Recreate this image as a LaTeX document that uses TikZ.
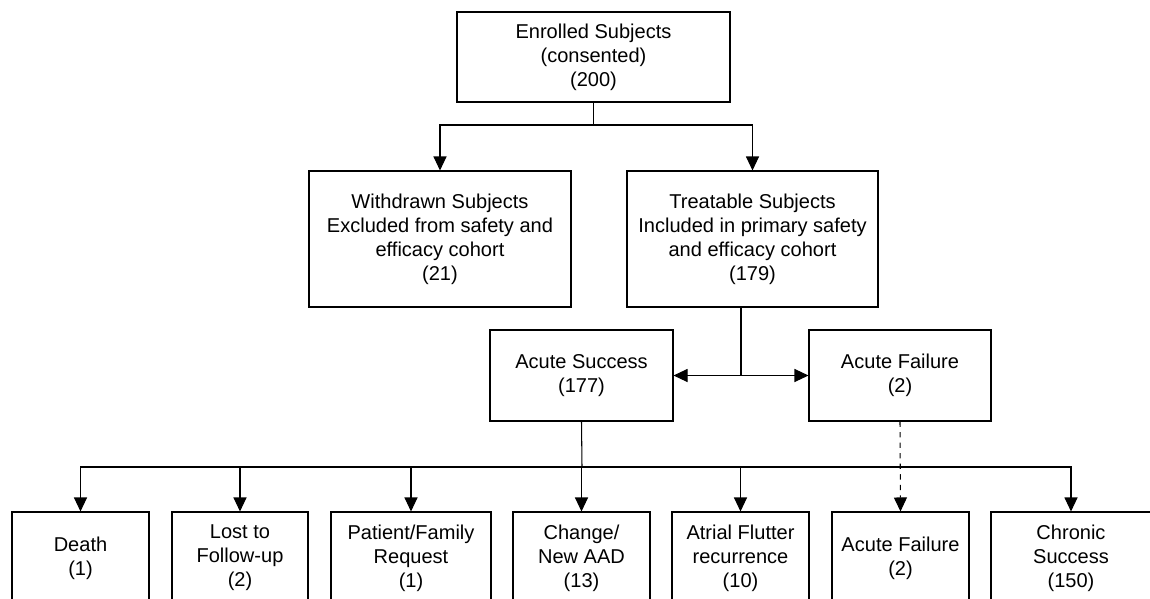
\documentclass[tikz,border=0pt]{standalone}
\usepackage{fontspec}
\setmainfont{Liberation Sans}
\usepackage{tikz}
\usetikzlibrary{arrows.meta}

\begin{document}
\begin{tikzpicture}[>={Triangle[length=0.28cm,width=0.26cm]},line width=0.6pt,
  box/.style={draw,inner sep=2pt,align=center,font=\fontsize{11.4}{13.6}\selectfont},
  lowbox/.style={box,minimum height=1.84cm}]
\useasboundingbox (0,0) rectangle (23,-11.98);
\clip (0,0) rectangle (23,-11.98);
\node[box,minimum width=5.46cm,minimum height=1.80cm] (enrolled) at (11.87,-1.14) {Enrolled Subjects\\(consented)\\(200)};
\node[box,minimum width=5.24cm,minimum height=2.72cm] (withdrawn) at (8.80,-4.78) {Withdrawn Subjects\\Excluded from safety and\\efficacy cohort\\(21)};
\node[box,minimum width=5.02cm,minimum height=2.72cm] (treatable) at (15.05,-4.78) {Treatable Subjects\\Included in primary safety\\and efficacy cohort\\(179)};
\node[box,minimum width=3.66cm,minimum height=1.82cm] (success) at (11.63,-7.51) {Acute Success\\(177)};
\node[box,minimum width=3.64cm,minimum height=1.82cm] (failure) at (18.00,-7.51) {Acute Failure\\(2)};
\node[lowbox,minimum width=2.74cm] (death) at (1.61,-11.16) {Death\\(1)};
\node[lowbox,minimum width=2.72cm] (lost) at (4.80,-11.16) {Lost to\\Follow-up\\(2)};
\node[lowbox,minimum width=3.20cm] (request) at (8.22,-11.16) {Patient/Family\\Request\\(1)};
\node[lowbox,minimum width=2.74cm] (aad) at (11.63,-11.16) {Change/\\New AAD\\(13)};
\node[lowbox,minimum width=2.74cm] (flutter) at (14.81,-11.16) {Atrial Flutter\\recurrence\\(10)};
\node[lowbox,minimum width=2.74cm] (failure2) at (18.01,-11.16) {Acute Failure\\(2)};
\node[lowbox,minimum width=3.20cm] (chronic) at (21.42,-11.16) {Chronic\\Success\\(150)};
\coordinate (fork) at (11.87,-2.50);
\coordinate (split) at (14.82,-7.51);
\coordinate (spread) at (11.64,-9.34);
\draw (enrolled.south) -- (fork);
\draw[->] (fork) -| (withdrawn.north);
\draw[->] (fork) -| (treatable.north);
\draw (treatable.south -| split) -- (split);
\draw[->] (split) -- (success.east);
\draw[->] (split) -- (failure.west);
\draw (success.south) -- (spread);
\foreach \n in {death,lost,request,aad,flutter,chronic}
  \draw[->] (spread) -| (\n.north);
\draw[->,dashed] (failure.south) -- (failure2.north);
\end{tikzpicture}
\end{document}
